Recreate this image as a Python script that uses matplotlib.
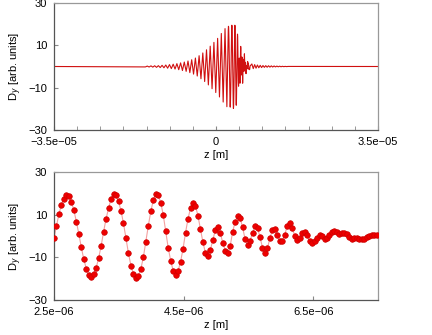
import numpy as np
import matplotlib
matplotlib.use('Agg')
import matplotlib.pyplot as plt

plt.rcParams['font.family'] = ['Liberation Sans', 'DejaVu Sans']

# zoomed window: sampled field, z in micrometres
zoom_z0 = 2.5
zoom_dz = 0.0383
zoom_d = [
    -1.0, 4.8, 10.3, 14.7, 17.5, 19.0, 18.6, 16.1, 12.1, 6.8,
    1.0, -5.3, -10.9, -15.3, -18.3, -19.2, -17.9, -14.8, -10.3, -4.6,
    2.1, 8.2, 13.1, 17.5, 19.5, 19.0, 16.2, 11.8, 5.9, -1.0,
    -8.1, -13.9, -17.9, -19.8, -18.9, -15.4, -10.0, -2.6, 4.8, 11.5,
    16.7, 19.5, 19.2, 15.7, 10.0, 2.4, -5.4, -11.5, -16.2, -18.3,
    -16.4, -12.0, -6.0, 1.6, 8.1, 13.1, 15.3, 14.2, 9.5, 3.4,
    -2.9, -7.8, -9.3, -6.5, -1.8, 2.7, 4.0, 1.5, -3.2, -6.8,
    -7.9, -4.6, 2.1, 6.7, 9.5, 8.4, 4.0, -1.5, -4.0, -2.3,
    1.5, 4.5, 3.8, -0.5, -5.4, -7.9, -5.7, -1.0, 2.9, 3.4,
    0.4, -2.3, -2.4, 0.7, 4.8, 6.0, 3.7, 0.1, -1.8, -1.0,
    1.3, 2.0, 0.4, -2.3, -3.4, -2.4, -0.7, 0.4, -0.2, -1.2,
    -1.0, 0.4, 1.8, 2.4, 1.8, 1.0, 1.2, 1.6, 0.9, -0.5,
    -1.3, -1.0, -0.9, -1.2, -1.5, -1.2, -0.5, 0.1, 0.4, 0.5,
    0.5,
]

# full trace outside the zoom window: oscillation extrema, z in micrometres
lead_z = [
    -15.25, -14.85, -14.45, -14.05, -13.65, -13.25, -12.85, -12.45, -12.05,
    -11.65, -11.25, -10.85, -10.45, -10.05, -9.65, -9.25, -8.85, -8.45,
    -8.05, -7.65, -7.25, -6.85, -6.45, -6.05, -5.65, -5.25, -4.85, -4.45,
    -4.05, -3.65, -3.25, -2.85, -2.45, -2.05, -1.65, -1.25, -0.85, -0.45,
    -0.05, 0.35, 0.75, 1.15, 1.55, 1.95, 2.35,
]
lead_d = [
    -0.2, 0.2, -0.25, 0.3, -0.3, 0.35, -0.4, 0.4, -0.5,
    0.55, -0.6, 0.7, -0.8, 0.9, -1.0, 1.1, -1.2, 1.35,
    -1.5, 1.7, -1.9, 2.1, -2.3, 2.6, -2.9, 3.2, -3.6, 4.0,
    -4.5, 5.1, -5.8, 6.4, -7.1, 7.9, -8.7, 9.6, -10.5, 11.4,
    -12.3, 13.3, -14.4, 15.6, -16.8, 17.9, -19.0,
]
tail_z = [
    7.75, 8.05, 8.35, 8.65, 8.95, 9.25, 9.55, 9.85, 10.15, 10.45,
    10.75, 11.05, 11.35, 11.65, 11.95, 12.25, 12.55, 12.85, 13.15, 13.45,
    13.75, 14.05, 14.35, 14.65, 14.95, 15.25, 15.55,
]
tail_d = [
    1.2, -1.0, 0.9, -0.8, 0.7, -0.6, 0.55, -0.5, 0.45, -0.4,
    0.4, -0.35, 0.35, -0.3, 0.3, -0.25, 0.25, -0.2, 0.2, -0.15,
    0.15, -0.12, 0.1, -0.08, 0.06, -0.05, 0.03,
]
window_edges = [-35.0, 35.0]

zoom_z = zoom_z0 + zoom_dz*np.arange(len(zoom_d))
full_z = np.concatenate([[window_edges[0]], lead_z, zoom_z, tail_z,
                         [window_edges[1]]])*1e-6
full_d = np.concatenate([[0.0], lead_d, zoom_d, tail_d, [0.0]])
zoom_z = zoom_z*1e-6


def style_axes(ax):
    for side in ['left', 'bottom']:
        ax.spines[side].set_color('#555555')
    for side in ['top', 'right']:
        ax.spines[side].set_color('#999999')
    for sp in ax.spines.values():
        sp.set_linewidth(0.9)
    ax.tick_params(which='both', direction='in', color='#888888',
                   labelsize=8, length=3)
    ax.tick_params(axis='x', pad=5)
    ax.tick_params(axis='y', pad=5)
    ax.set_ylim(-30, 30)
    ax.set_yticks([-30, -10, 10, 30])
    ax.set_yticklabels(['\u221230', '\u221210', '10', '30'])
    ax.set_ylabel(r'D$_y$ [arb. units]', fontsize=8, labelpad=3)
    ax.set_xlabel('z [m]', fontsize=8, labelpad=2)


fig = plt.figure(figsize=(4.32, 3.35), dpi=100)

ax1 = fig.add_axes([0.125, 0.612, 0.75, 0.379])
ax1.plot(full_z, full_d, color='#d01010', lw=0.8)
ax1.set_xlim(-3.5e-5, 3.5e-5)
ax1.set_xticks([-3.5e-5, 0, 3.5e-5])
ax1.set_xticklabels(['\u22123.5e\u221205', '0', '3.5e\u221205'])
ax1.set_xticks(np.arange(-3.0, 3.01, 0.5)*1e-5, minor=True)
style_axes(ax1)

ax2 = fig.add_axes([0.125, 0.1045, 0.75, 0.382])
ax2.plot(zoom_z, zoom_d, color='#f4a0a0', lw=0.8, zorder=2)
ax2.plot(zoom_z, zoom_d, ls='none', marker='o', ms=4,
         mfc='#ee0000', mec='#cc0000', mew=0.5, zorder=3)
ax2.set_xlim(2.5e-6, 7.5e-6)
ax2.set_xticks([2.5e-6, 4.5e-6, 6.5e-6])
ax2.set_xticklabels(['2.5e\u221206', '4.5e\u221206', '6.5e\u221206'])
style_axes(ax2)

fig.savefig('out.png', dpi=100)
